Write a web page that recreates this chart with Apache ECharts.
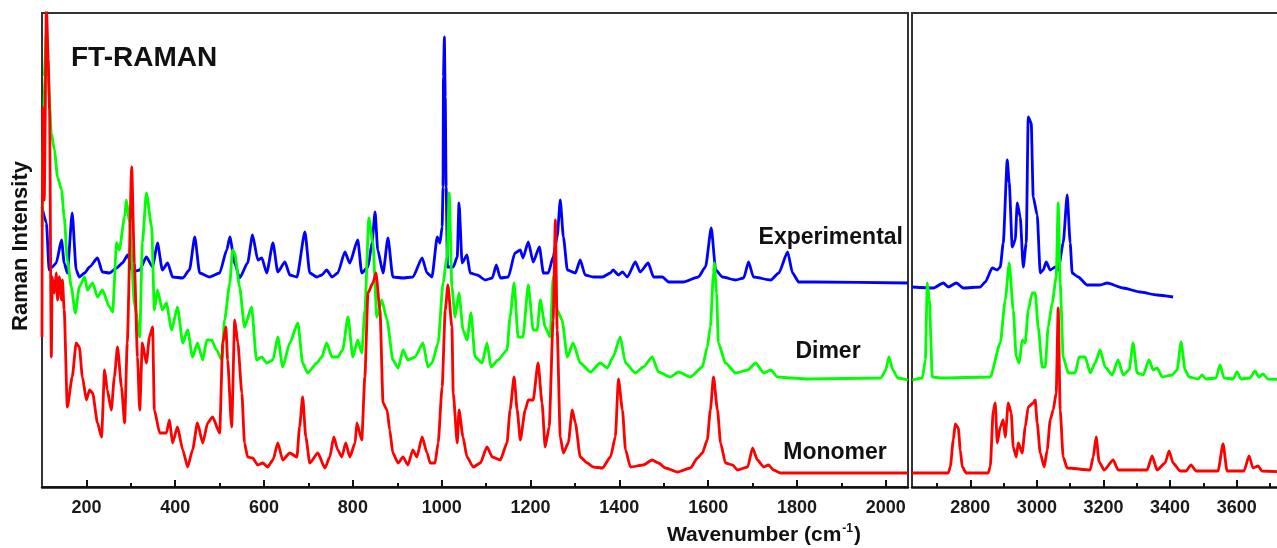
<!DOCTYPE html>
<html>
<head>
<meta charset="utf-8">
<script src="https://cdn.jsdelivr.net/npm/echarts@6/dist/echarts.min.js"></script>
<style>
html,body{margin:0;padding:0;background:#fff;}
#chart{width:1277px;height:548px;}
</style>
</head>
<body>
<div id="chart"></div>
<script>
// ---------- tick values ----------
const ticksLow = [200,400,600,800,1000,1200,1400,1600,1800,2000];
const minorLow = [300,500,700,900,1100,1300,1500,1700,1900];
const ticksHigh = [2800,3000,3200,3400,3600];
const minorHigh = [2700,2900,3100,3300,3500,3700];

// ---------- Experimental (blue) [wavenumber, intensity] ----------
const expLow = [[100,280],[110,264],[116,217],[123,220],[132,224],[144,247],[150,224],[157,214],[168,274],[177,217],[184,210],[196,214],[207,220],[225,229],[236,215],[252,214],[268,219],[281,224],[293,232],[304,215],[320,217],[335,230],[349,220],[360,244],[371,217],[383,224],[394,210],[417,209],[432,217],[444,250],[455,214],[477,210],[500,214],[516,237],[523,250],[534,224],[545,209],[563,224],[574,252],[586,227],[595,229],[606,214],[620,244],[631,215],[647,225],[658,212],[674,210],[692,255],[703,214],[719,210],[730,212],[741,217],[753,210],[766,214],[782,235],[793,224],[811,247],[820,214],[834,220],[843,244],[850,275],[856,237],[868,214],[879,249],[890,210],[913,209],[935,210],[956,229],[967,214],[978,210],[990,250],[996,244],[1001,260],[1003,300],[1004,410],[1006,450],[1008,390],[1010,300],[1013,220],[1026,220],[1035,230],[1039,284],[1046,224],[1057,232],[1064,214],[1080,212],[1098,207],[1114,209],[1123,222],[1132,209],[1150,210],[1165,234],[1177,237],[1183,229],[1195,245],[1206,225],[1220,240],[1229,214],[1240,214],[1251,230],[1260,250],[1267,287],[1274,250],[1283,217],[1301,214],[1312,227],[1323,212],[1341,210],[1362,210],[1380,214],[1386,217],[1398,212],[1407,215],[1418,210],[1436,225],[1447,215],[1465,224],[1477,210],[1497,210],[1511,205],[1544,205],[1578,210],[1594,220],[1607,259],[1617,217],[1632,210],[1662,207],[1680,209],[1691,225],[1702,210],[1741,207],[1759,214],[1779,235],[1790,214],[1804,205],[1838,205],[2050,204]];
const expHigh = [[2626,200],[2689,199],[2719,204],[2734,200],[2758,204],[2779,199],[2830,200],[2845,205],[2866,219],[2881,217],[2890,220],[2899,244],[2911,327],[2917,304],[2926,240],[2935,247],[2941,284],[2950,270],[2959,220],[2968,244],[2974,370],[2983,364],[2989,290],[3001,272],[3010,214],[3019,217],[3028,225],[3040,217],[3055,220],[3064,217],[3079,244],[3091,292],[3100,244],[3106,214],[3124,210],[3151,202],[3190,202],[3211,204],[3259,199],[3310,195],[3361,192],[3409,190]];

// ---------- Dimer (green) ----------
const dimerLow = [[100,260],[105,410],[110,457],[114,410],[121,354],[128,337],[135,310],[144,297],[150,270],[157,227],[166,200],[175,174],[184,200],[196,210],[202,197],[214,204],[225,190],[236,197],[252,180],[259,175],[268,244],[274,237],[286,270],[290,287],[297,264],[308,184],[320,150],[326,244],[335,294],[347,260],[353,177],[360,197],[371,177],[380,184],[392,157],[405,180],[417,144],[428,157],[439,130],[450,144],[462,127],[471,147],[482,147],[493,137],[505,127],[511,167],[523,204],[529,237],[534,234],[545,200],[556,160],[572,180],[583,127],[595,130],[606,124],[620,127],[631,150],[642,120],[658,144],[676,164],[687,124],[698,114],[719,124],[730,130],[741,144],[753,130],[766,130],[777,137],[789,170],[800,130],[811,147],[820,134],[827,177],[836,269],[845,244],[854,170],[865,187],[877,167],[890,127],[902,119],[913,137],[924,127],[940,130],[958,144],[969,120],[978,124],[992,144],[1003,204],[1012,230],[1017,294],[1023,200],[1030,170],[1039,194],[1048,157],[1057,147],[1066,174],[1075,130],[1091,124],[1102,144],[1111,120],[1127,127],[1147,137],[1154,170],[1163,204],[1172,150],[1183,150],[1195,202],[1206,157],[1215,157],[1222,187],[1233,160],[1244,150],[1251,210],[1260,177],[1271,167],[1283,130],[1296,144],[1312,124],[1335,115],[1357,124],[1373,119],[1386,130],[1402,150],[1414,124],[1436,114],[1454,120],[1474,130],[1488,115],[1515,110],[1533,115],[1560,110],[1587,120],[1598,140],[1605,160],[1612,214],[1614,224],[1619,194],[1623,144],[1639,124],[1662,114],[1689,117],[1707,124],[1725,114],[1741,117],[1756,110],[1786,109],[1826,108],[1989,109],[2000,117],[2007,130],[2016,117],[2027,109],[2050,107]];
const dimerHigh = [[2626,107],[2656,109],[2665,127],[2671,204],[2677,187],[2686,110],[2710,109],[2860,110],[2890,144],[2905,187],[2917,224],[2929,177],[2938,130],[2947,124],[2956,147],[2965,144],[2974,177],[2986,194],[2995,194],[3004,160],[3016,120],[3025,120],[3034,160],[3046,184],[3058,210],[3064,284],[3070,204],[3079,130],[3094,114],[3115,114],[3127,130],[3145,130],[3160,114],[3175,124],[3190,137],[3205,120],[3226,112],[3244,127],[3259,112],[3277,117],[3289,144],[3301,114],[3319,112],[3337,127],[3349,117],[3361,119],[3376,110],[3406,112],[3421,117],[3433,145],[3445,117],[3457,110],[3484,108],[3496,112],[3508,108],[3538,109],[3550,122],[3562,109],[3589,108],[3601,115],[3613,108],[3640,109],[3655,116],[3667,110],[3679,113],[3694,108],[3745,107]];

// ---------- Monomer (red) ----------
const monoLow = [[100,150],[101,380],[105,287],[110,480],[114,427],[117,377],[121,130],[123,210],[128,194],[132,214],[135,187],[139,210],[144,187],[146,207],[150,177],[157,80],[168,110],[177,144],[184,140],[191,110],[200,87],[207,97],[214,94],[225,64],[234,50],[241,117],[247,97],[256,77],[263,110],[270,140],[279,100],[286,64],[292,144],[302,320],[308,224],[315,130],[320,77],[326,144],[335,124],[342,150],[349,160],[353,77],[365,54],[380,54],[387,67],[394,44],[405,60],[417,37],[428,20],[439,37],[450,64],[462,44],[473,64],[484,70],[500,54],[507,144],[514,160],[518,127],[527,60],[534,167],[541,144],[550,94],[556,44],[563,30],[574,29],[586,22],[597,24],[608,20],[620,27],[631,44],[642,27],[658,34],[674,30],[680,60],[687,90],[694,50],[703,24],[721,34],[737,19],[748,30],[757,50],[766,37],[775,30],[784,44],[793,30],[805,44],[809,64],[820,47],[827,110],[834,194],[845,204],[852,214],[861,177],[868,84],[877,77],[883,57],[890,34],[902,24],[913,30],[924,22],[935,37],[944,30],[956,50],[967,34],[974,24],[985,24],[992,44],[1001,100],[1008,177],[1014,202],[1023,160],[1026,94],[1035,44],[1039,77],[1048,50],[1057,30],[1071,20],[1087,24],[1102,40],[1114,30],[1132,27],[1147,44],[1154,77],[1163,110],[1170,77],[1177,47],[1188,77],[1195,87],[1206,87],[1217,124],[1226,84],[1233,40],[1242,60],[1251,167],[1256,267],[1260,157],[1267,50],[1274,34],[1285,44],[1294,77],[1301,64],[1312,30],[1328,24],[1341,20],[1362,19],[1380,30],[1391,50],[1398,108],[1407,77],[1414,37],[1425,20],[1454,22],[1474,27],[1488,24],[1504,19],[1531,15],[1560,19],[1576,29],[1587,34],[1598,47],[1605,77],[1612,110],[1621,77],[1628,44],[1639,24],[1655,22],[1666,17],[1689,20],[1700,39],[1711,27],[1725,20],[1736,22],[1747,17],[1763,14],[2050,14]];
const monoHigh = [[2626,14],[2734,14],[2740,20],[2749,47],[2755,63],[2764,59],[2770,37],[2776,20],[2788,14],[2854,14],[2860,20],[2869,77],[2875,84],[2881,44],[2890,60],[2899,67],[2905,50],[2914,84],[2923,74],[2929,40],[2938,30],[2944,44],[2956,34],[2965,60],[2974,80],[2989,84],[2995,87],[3001,64],[3010,34],[3022,20],[3031,37],[3040,67],[3049,77],[3058,94],[3064,179],[3070,77],[3079,30],[3091,19],[3160,17],[3169,30],[3178,50],[3187,25],[3202,17],[3229,27],[3244,17],[3331,17],[3346,31],[3361,17],[3385,24],[3397,36],[3409,24],[3430,16],[3448,16],[3463,22],[3478,16],[3544,16],[3559,43],[3571,16],[3622,16],[3637,31],[3649,19],[3664,21],[3676,16],[3745,15]];

// ---------- chart ----------
const FONT = "'Liberation Sans', Arial, sans-serif";
const chart = echarts.init(document.getElementById('chart'), null, {renderer: 'canvas'});

function mainX(grid, min, max, ticks) {
  return {
    type: 'value', gridIndex: grid, min: min, max: max, position: 'bottom',
    axisLine: {show: true, onZero: false, lineStyle: {color: '#111', width: 2.5}},
    axisTick: {show: true, inside: true, length: 7, customValues: ticks, lineStyle: {color: '#111', width: 2}},
    axisLabel: {show: true, customValues: ticks, margin: 12, color: '#1a1a1a',
      fontFamily: FONT, fontWeight: 'bold', fontSize: 18,
      formatter: function (v) { return String(v); }},
    splitLine: {show: false}
  };
}
function minorX(grid, min, max, ticks) {
  return {
    type: 'value', gridIndex: grid, min: min, max: max, position: 'bottom',
    axisLine: {show: false},
    axisTick: {show: true, inside: true, length: 4, customValues: ticks, lineStyle: {color: '#111', width: 2}},
    axisLabel: {show: false},
    splitLine: {show: false}
  };
}
function topX(grid, min, max) {
  return {
    type: 'value', gridIndex: grid, min: min, max: max, position: 'top',
    axisLine: {show: true, onZero: false, lineStyle: {color: '#333', width: 2}},
    axisTick: {show: false}, axisLabel: {show: false}, splitLine: {show: false}
  };
}
function yAx(grid, withLine) {
  return {
    type: 'value', gridIndex: grid, min: 0, max: 474, position: 'left',
    axisLine: {show: withLine, onZero: false, lineStyle: {color: '#333', width: 2}},
    axisTick: {show: false}, axisLabel: {show: false}, splitLine: {show: false}
  };
}
function line(name, data, color, xi, yi) {
  return {
    name: name, type: 'line', data: data, xAxisIndex: xi, yAxisIndex: yi,
    showSymbol: false, symbol: 'none', clip: true, silent: true, animation: false,
    smooth: 0.2, smoothMonotone: 'x',
    lineStyle: {color: color, width: 2.8, join: 'round'}
  };
}

const HIGH_MIN = 2625, HIGH_MAX = 3721;

chart.setOption({
  animation: false,
  backgroundColor: '#fff',
  grid: [
    {left: 42, top: 13, width: 866, height: 474, show: true, borderColor: '#333', borderWidth: 2, backgroundColor: 'transparent'},
    {left: 912, top: 13, right: 0, height: 474, show: false}
  ],
  xAxis: [
    mainX(0, 100, 2050, ticksLow),
    minorX(0, 100, 2050, minorLow),
    mainX(1, HIGH_MIN, HIGH_MAX, ticksHigh),
    minorX(1, HIGH_MIN, HIGH_MAX, minorHigh),
    topX(1, HIGH_MIN, HIGH_MAX)
  ],
  yAxis: [yAx(0, false), yAx(1, true)],
  series: [
    line('Experimental', expLow, '#0000ff', 0, 0),
    line('Experimental', expHigh, '#0000ff', 2, 1),
    line('Dimer', dimerLow, '#00ff00', 0, 0),
    line('Dimer', dimerHigh, '#00ff00', 2, 1),
    line('Monomer', monoLow, '#ff0000', 0, 0),
    line('Monomer', monoHigh, '#ff0000', 2, 1)
  ],
  graphic: [
    {type: 'text', x: 71, y: 58, style: {text: 'FT-RAMAN', font: "bold 28px " + FONT, fill: '#111', textAlign: 'left', textVerticalAlign: 'middle'}},
    {type: 'text', x: 21, y: 246, rotation: Math.PI / 2, style: {text: 'Raman Intensity', font: "bold 22px " + FONT, fill: '#111', textAlign: 'center', textVerticalAlign: 'middle'}},
    {type: 'text', x: 903, y: 238, style: {text: 'Experimental', font: "bold 23px " + FONT, fill: '#111', textAlign: 'right', textVerticalAlign: 'middle'}},
    {type: 'text', x: 828, y: 352, style: {text: 'Dimer', font: "bold 23px " + FONT, fill: '#111', textAlign: 'center', textVerticalAlign: 'middle'}},
    {type: 'text', x: 835, y: 453, style: {text: 'Monomer', font: "bold 23px " + FONT, fill: '#111', textAlign: 'center', textVerticalAlign: 'middle'}},
    {type: 'text', x: 764, y: 535, style: {
      text: '{a|Wavenumber (cm}{s|-1}{a|)}',
      textAlign: 'center', textVerticalAlign: 'middle',
      rich: {
        a: {fontFamily: FONT, fontWeight: 'bold', fontSize: 21, fill: '#111', color: '#111', lineHeight: 24},
        s: {fontFamily: FONT, fontWeight: 'bold', fontSize: 12, fill: '#111', color: '#111', lineHeight: 24, verticalAlign: 'top', padding: [0, 1, 8, 1]}
      }
    }}
  ]
});
</script>
</body>
</html>
